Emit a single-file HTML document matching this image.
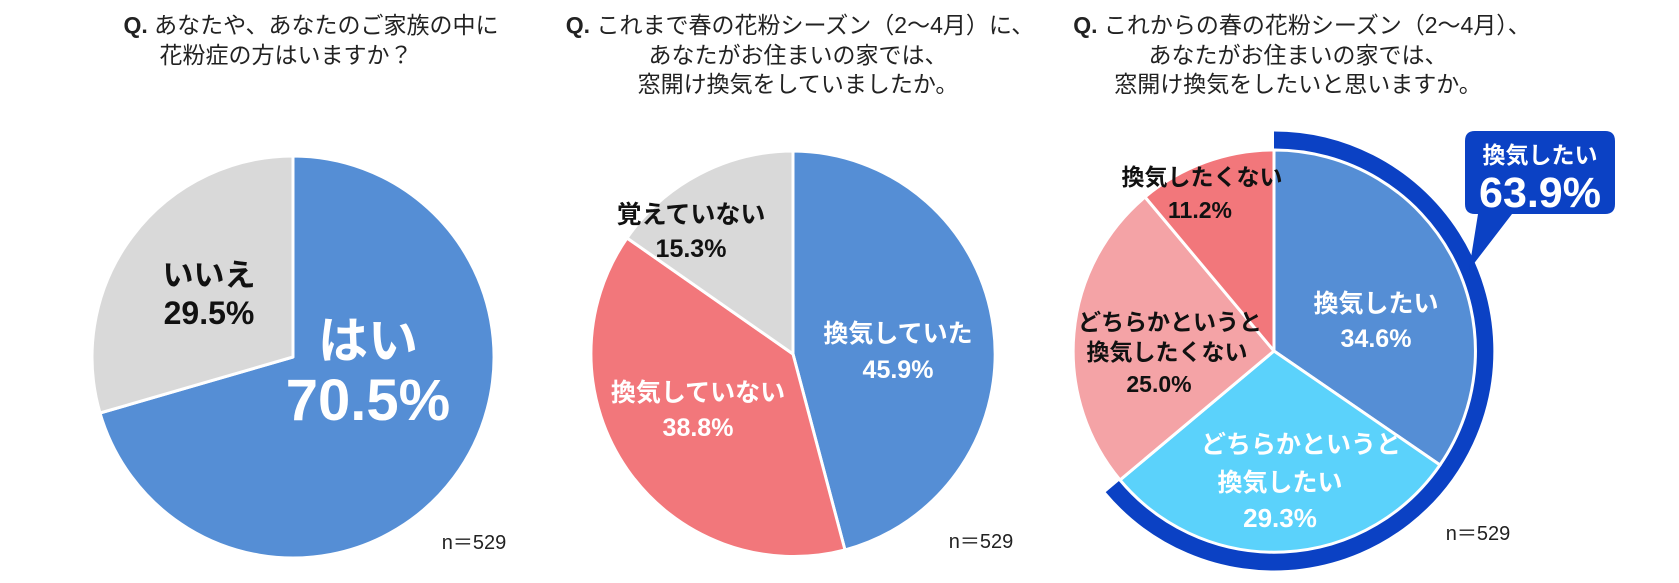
<!DOCTYPE html>
<html><head><meta charset="utf-8"><style>
html,body{margin:0;padding:0;background:#fff;}
svg{display:block;}
text{font-family:"Liberation Sans","Noto Sans CJK JP",sans-serif;}
.t{font-size:23px;fill:#222;}
</style></head><body>
<svg width="1679" height="583" viewBox="0 0 1679 583" xmlns="http://www.w3.org/2000/svg">
<!-- Titles -->
<g class="t" text-anchor="middle">
<text x="311" y="33"><tspan font-weight="bold">Q.</tspan>  あなたや、あなたのご家族の中に</text>
<text x="286" y="63">花粉症の方はいますか？</text>
<text x="800" y="33"><tspan font-weight="bold">Q.</tspan>  これまで春の花粉シーズン（2〜4月）に、</text>
<text x="798" y="63">あなたがお住まいの家では、</text>
<text x="798" y="92">窓開け換気をしていましたか。</text>
<text x="1302" y="33"><tspan font-weight="bold">Q.</tspan>  これからの春の花粉シーズン（2〜4月）、</text>
<text x="1298" y="63">あなたがお住まいの家では、</text>
<text x="1298" y="92">窓開け換気をしたいと思いますか。</text>
</g>

<!-- Pie 1 -->
<g stroke="#fff" stroke-width="3" stroke-linejoin="round">
<path d="M293,357 L293,156 A201,201 0 1 1 100,413 Z" fill="#558ED5"/>
<path d="M293,357 L100,413 A201,201 0 0 1 293,156 Z" fill="#D9D9D9"/>
</g>
<g text-anchor="middle" font-weight="bold">
<text x="209" y="286" font-size="31" fill="#111">いいえ</text>
<text x="209" y="324" font-size="32" fill="#111">29.5%</text>
<text x="368" y="358" font-size="50" fill="#fff">はい</text>
<text x="368" y="420" font-size="58" fill="#fff">70.5%</text>
</g>
<text x="474" y="549" font-size="20" fill="#222" text-anchor="middle">n＝529</text>

<!-- Pie 2 -->
<g stroke="#fff" stroke-width="3" stroke-linejoin="round">
<path d="M793,354 L793,151 A203,203 0 0 1 845,550 Z" fill="#558ED5"/>
<path d="M793,354 L845,550 A203,203 0 0 1 627,238 Z" fill="#F2777B"/>
<path d="M793,354 L627,238 A203,203 0 0 1 793,151 Z" fill="#D9D9D9"/>
</g>
<g text-anchor="middle" font-weight="bold" font-size="25">
<text x="691" y="223" fill="#111">覚えていない</text>
<text x="691" y="257" fill="#111">15.3%</text>
<text x="698" y="401" fill="#fff">換気していない</text>
<text x="698" y="436" fill="#fff">38.8%</text>
<text x="898" y="342" fill="#fff">換気していた</text>
<text x="898" y="378" fill="#fff">45.9%</text>
</g>
<text x="981" y="548" font-size="20" fill="#222" text-anchor="middle">n＝529</text>

<!-- Pie 3 -->
<path d="M1274,141 A210,210 0 1 1 1113,486" fill="none" stroke="#0B41C4" stroke-width="19"/>
<g stroke="#fff" stroke-width="3" stroke-linejoin="round">
<path d="M1274,351 L1274,150 A201,201 0 0 1 1440,465 Z" fill="#558ED5"/>
<path d="M1274,351 L1440,465 A201,201 0 0 1 1120,480 Z" fill="#5BD2FB"/>
<path d="M1274,351 L1120,480 A201,201 0 0 1 1145,197 Z" fill="#F4A3A6"/>
<path d="M1274,351 L1145,197 A201,201 0 0 1 1274,150 Z" fill="#F2777B"/>
</g>
<!-- callout -->
<path d="M1475,131 H1605 Q1615,131 1615,141 V204 Q1615,214 1605,214 H1512 L1469,270 L1478,214 H1475 Q1465,214 1465,204 V141 Q1465,131 1475,131 Z" fill="#0B41C4"/>
<g text-anchor="middle" font-weight="bold" fill="#fff">
<text x="1540" y="163" font-size="23">換気したい</text>
<text x="1540" y="207" font-size="43">63.9%</text>
</g>
<g text-anchor="middle" font-weight="bold" font-size="23">
<text x="1202" y="185" fill="#111">換気したくない</text>
<text x="1200" y="218" fill="#111">11.2%</text>
<text x="1170" y="330" fill="#111">どちらかというと</text>
<text x="1167" y="360" fill="#111">換気したくない</text>
<text x="1159" y="392" fill="#111">25.0%</text>
<text x="1376" y="312" font-size="25" fill="#fff">換気したい</text>
<text x="1376" y="347" font-size="25" fill="#fff">34.6%</text>
<text x="1301" y="453" font-size="25" fill="#fff">どちらかというと</text>
<text x="1280" y="491" font-size="25" fill="#fff">換気したい</text>
<text x="1280" y="527" font-size="26" fill="#fff">29.3%</text>
</g>
<text x="1478" y="540" font-size="20" fill="#222" text-anchor="middle">n＝529</text>
</svg>
</body></html>
